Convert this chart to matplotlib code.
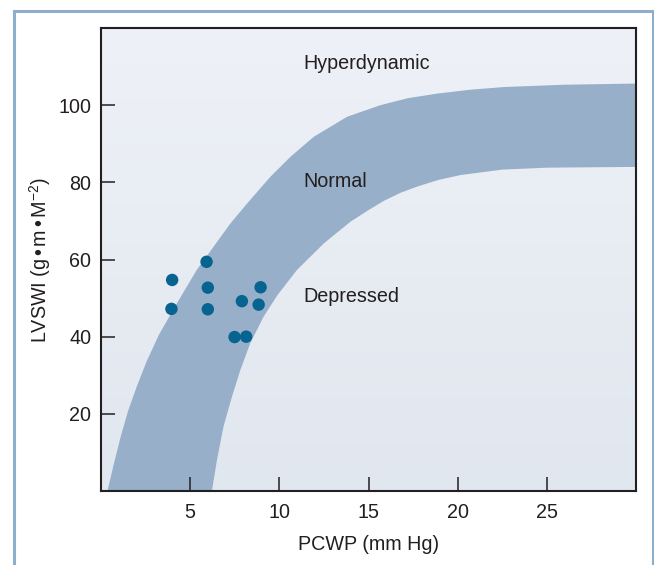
import numpy as np
import matplotlib
matplotlib.use("Agg")
import matplotlib.pyplot as plt
from matplotlib.colors import LinearSegmentedColormap
from matplotlib.patches import Rectangle

plt.rcParams['font.family'] = ['Liberation Sans', 'DejaVu Sans']
plt.rcParams['mathtext.fontset'] = 'custom'
plt.rcParams['mathtext.rm'] = 'Liberation Sans'
plt.rcParams['mathtext.it'] = 'Liberation Sans:italic'

# Patient data points (PCWP, LVSWI)
pcwp = [5.92, 3.99, 5.99, 8.95, 7.90, 8.84, 3.95, 5.99, 7.49, 8.14]
lvswi = [59.4, 54.7, 52.7, 52.8, 49.2, 48.3, 47.2, 47.1, 39.9, 40.0]

# Normal band: upper boundary
upper_x = [0.36, 0.72, 1.1, 1.5, 2.0, 2.55, 3.25, 4.25, 5.37, 6.31, 7.25, 8.19,
           9.49, 10.62, 11.93, 13.8, 15.67, 17.2, 18.86, 20.7, 22.6, 26.0, 30.0]
upper_y = [0.0, 7.0, 14.0, 20.5, 27.0, 33.5, 40.5, 48.6, 57.3, 63.3, 69.3, 74.5,
           81.4, 86.6, 91.8, 97.0, 100.0, 101.8, 103.0, 104.0, 104.7, 105.3, 105.6]
# Normal band: lower boundary
lower_x = [6.22, 6.5, 6.87, 7.34, 7.81, 8.37, 9.12, 9.9, 10.99, 12.5, 13.99,
           15.0, 15.86, 16.8, 17.73, 18.9, 20.17, 22.5, 25.0, 30.0]
lower_y = [0.0, 8.0, 16.7, 24.4, 31.3, 38.3, 45.2, 50.8, 57.3, 64.2, 69.8,
           72.8, 75.2, 77.3, 78.9, 80.6, 81.9, 83.3, 83.8, 84.0]

xticks = [5, 10, 15, 20, 25]
yticks = [20, 40, 60, 80, 100]

region_labels = ["Hyperdynamic", "Normal", "Depressed"]
region_x = [11.35, 11.35, 11.35]
region_y = [110.9, 80.3, 50.5]

fig = plt.figure(figsize=(6.54, 5.65), dpi=100)
fig.patch.set_facecolor('white')

# outer frame
fig.add_artist(Rectangle((14/654, -0.05), (652.5-14)/654, (565-11)/565 + 0.05,
                         transform=fig.transFigure, fill=False,
                         edgecolor='#8FAECC', linewidth=2.2))

ax = fig.add_axes([101/654, 74/565, 535/654, 463/565])
ax.set_xlim(0, 30)
ax.set_ylim(0, 120)

# background gradient
cmap = LinearSegmentedColormap.from_list('bg', ['#E1E7EF', '#EEF1F7'])
grad = np.linspace(0, 1, 256).reshape(-1, 1)
ax.imshow(grad, extent=[0, 30, 0, 120], origin='lower', aspect='auto',
          cmap=cmap, zorder=0, interpolation='bilinear')

band_x = list(upper_x) + list(lower_x[::-1])
band_y = list(upper_y) + list(lower_y[::-1])
ax.fill(band_x, band_y, color='#97AFC8', linewidth=0, zorder=1, antialiased=True)

ax.scatter(pcwp, lvswi, s=80, color='#07638F', edgecolors='none', zorder=3)

for lab, x, y in zip(region_labels, region_x, region_y):
    ax.text(x, y, lab, fontsize=14.2, color='#231F20', ha='left', va='center', zorder=4)

ax.set_xticks(xticks)
ax.set_yticks(yticks)
ax.tick_params(direction='in', length=10, width=1.1, color='#231F20',
               labelsize=14.2, labelcolor='#231F20')
ax.tick_params(axis='x', pad=9)
ax.tick_params(axis='y', pad=7)
for s in ax.spines.values():
    s.set_linewidth(1.5)
    s.set_color('#231F20')
    s.set_zorder(5)

ax.set_xlabel('PCWP (mm Hg)', fontsize=14.2, color='#231F20', labelpad=9)
ax.set_ylabel(r'LVSWI (g$\,$•$\,$m$\,$•$\,$M$^{-2}$)', fontsize=14.2, color='#231F20', labelpad=4)

fig.savefig('out.png', dpi=100)
